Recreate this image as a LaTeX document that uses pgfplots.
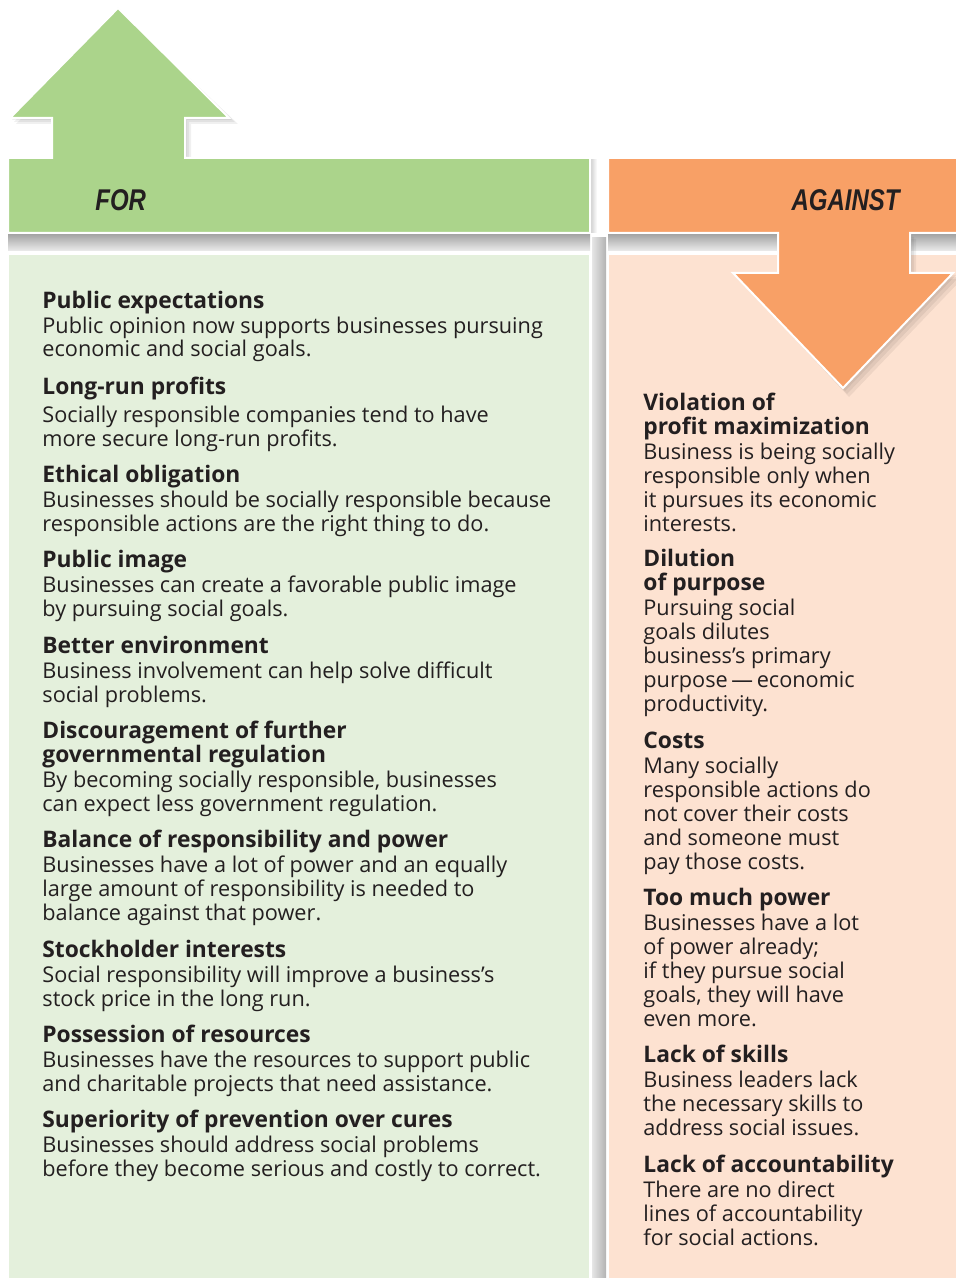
\documentclass[border=0pt]{standalone}
\usepackage{pgfplots}
\pgfplotsset{compat=1.18}
\usepackage{fontspec}
\setmainfont{Open Sans}
\newfontfamily\headfont[FakeStretch=0.8]{Liberation Sans}
\definecolor{gbar}{HTML}{ABD48B}
\definecolor{gpanel}{HTML}{E4F0DC}
\definecolor{obar}{HTML}{F8A066}
\definecolor{opanel}{HTML}{FDE2D1}
\definecolor{txt}{HTML}{231F20}
\newcommand\Hd[3]{\node[anchor=base west,inner sep=0pt,font=\fontsize{11.4}{12}\selectfont\bfseries,text=txt] at (axis cs:#1,#2) {#3};}
\newcommand\Tx[3]{\node[anchor=base west,inner sep=0pt,font=\fontsize{10.85}{12}\selectfont,text=txt] at (axis cs:#1,#2) {#3};}
\begin{document}
\begin{tikzpicture}
\begin{axis}[
  width=478pt, height=639pt, scale only axis,
  xmin=0, xmax=956, ymin=0, ymax=1278, y dir=reverse,
  hide axis, clip=true,
]
% background
\addplot[fill=white, draw=none] coordinates {(0,0) (956,0) (956,1278) (0,1278)} -- cycle;
% panels
\addplot[fill=gpanel, draw=white, line width=1pt] coordinates {(8,254) (590,254) (590,1282) (8,1282)} -- cycle;
\addplot[fill=opanel, draw=white, line width=1pt] coordinates {(608,254) (960,254) (960,1282) (608,1282)} -- cycle;
% vertical separator shadow
\addplot[draw=none, left color=gray!20, right color=gray!60] coordinates {(592,238) (606,238) (606,1282) (592,1282)} -- cycle;
\addplot[draw=none, left color=gray!35, right color=white] coordinates {(591,160) (597,160) (597,233) (591,233)} -- cycle;
% horizontal shadow band
\addplot[draw=none, top color=gray!75, bottom color=gray!15] coordinates {(8,233) (590,233) (590,251) (8,251)} -- cycle;
\addplot[draw=none, top color=gray!75, bottom color=gray!15] coordinates {(608,233) (960,233) (960,251) (608,251)} -- cycle;
% green arrow shadow (soft)
\addplot[fill=black, fill opacity=0.06, draw=none] coordinates {(12,120) (54,120) (54,160) (187,160) (187,120) (232,120) (120,10)} -- cycle;
\addplot[fill=black, fill opacity=0.06, draw=none] coordinates {(14,122) (56,122) (56,162) (189,162) (189,122) (235,122) (121,12)} -- cycle;
\addplot[fill=black, fill opacity=0.06, draw=none] coordinates {(16,124) (58,124) (58,164) (191,164) (191,124) (238,124) (122,14)} -- cycle;
% green arrow + bar
\addplot[fill=gbar, draw=white, line width=1pt] coordinates {(8,233) (8,158) (52,158) (52,118) (10,118) (118,8) (229,118) (185,118) (185,158) (590,158) (590,233)} -- cycle;
% orange arrow shadow (soft)
\addplot[fill=black, fill opacity=0.06, draw=none] coordinates {(780,235) (912,235) (912,275) (956,275) (845,391) (735,275) (780,275)} -- cycle;
\addplot[fill=black, fill opacity=0.06, draw=none] coordinates {(782,237) (914,237) (914,277) (959,277) (847,394) (737,277) (782,277)} -- cycle;
\addplot[fill=black, fill opacity=0.06, draw=none] coordinates {(784,239) (916,239) (916,279) (962,279) (849,397) (739,279) (784,279)} -- cycle;
% orange arrow + bar
\addplot[fill=obar, draw=white, line width=1pt] coordinates {(608,233) (608,158) (960,158) (960,233) (910,233) (910,273) (953,273) (843,388) (733,273) (778,273) (778,233)} -- cycle;
% titles
\node[anchor=base west,inner sep=0pt,text=txt,font=\headfont\fontsize{15}{16}\selectfont\bfseries\itshape] at (axis cs:95,211) {FOR};
\node[anchor=base east,inner sep=0pt,text=txt,font=\headfont\fontsize{15}{16}\selectfont\bfseries\itshape] at (axis cs:900,211) {AGAINST};
% left column
\Hd{42}{309}{Public expectations}
\Tx{42}{334}{Public opinion now supports businesses pursuing}
\Tx{42}{357}{economic and social goals.}
\Hd{42}{394}{Long-run profits}
\Tx{42}{422}{Socially responsible companies tend to have}
\Tx{42}{446}{more secure long-run profits.}
\Hd{42}{482}{Ethical obligation}
\Tx{42}{507}{Businesses should be socially responsible because}
\Tx{42}{531}{responsible actions are the right thing to do.}
\Hd{42}{567}{Public image}
\Tx{42}{592}{Businesses can create a favorable public image}
\Tx{42}{616}{by pursuing social goals.}
\Hd{42}{653}{Better environment}
\Tx{42}{678}{Business involvement can help solve difficult}
\Tx{42}{702}{social problems.}
\Hd{42}{738}{Discouragement of further}
\Hd{42}{762}{governmental regulation}
\Tx{42}{787}{By becoming socially responsible, businesses}
\Tx{42}{811}{can expect less government regulation.}
\Hd{42}{847}{Balance of responsibility and power}
\Tx{42}{872}{Businesses have a lot of power and an equally}
\Tx{42}{896}{large amount of responsibility is needed to}
\Tx{42}{920}{balance against that power.}
\Hd{42}{957}{Stockholder interests}
\Tx{42}{982}{Social responsibility will improve a business’s}
\Tx{42}{1006}{stock price in the long run.}
\Hd{42}{1042}{Possession of resources}
\Tx{42}{1067}{Businesses have the resources to support public}
\Tx{42}{1091}{and charitable projects that need assistance.}
\Hd{42}{1127}{Superiority of prevention over cures}
\Tx{42}{1152}{Businesses should address social problems}
\Tx{42}{1176}{before they become serious and costly to correct.}
% right column
\Hd{643}{410}{Violation of}
\Hd{643}{434}{profit maximization}
\Tx{643}{459}{Business is being socially}
\Tx{643}{483}{responsible only when}
\Tx{643}{507}{it pursues its economic}
\Tx{643}{531}{interests.}
\Hd{643}{566}{Dilution}
\Hd{643}{590}{of purpose}
\Tx{643}{615}{Pursuing social}
\Tx{643}{639}{goals dilutes}
\Tx{643}{663}{business’s primary}
\Tx{643}{687}{purpose\,—\,economic}
\Tx{643}{711}{productivity.}
\Hd{643}{748}{Costs}
\Tx{643}{773}{Many socially}
\Tx{643}{797}{responsible actions do}
\Tx{643}{821}{not cover their costs}
\Tx{643}{845}{and someone must}
\Tx{643}{869}{pay those costs.}
\Hd{643}{905}{Too much power}
\Tx{643}{930}{Businesses have a lot}
\Tx{643}{954}{of power already;}
\Tx{643}{978}{if they pursue social}
\Tx{643}{1002}{goals, they will have}
\Tx{643}{1026}{even more.}
\Hd{643}{1062}{Lack of skills}
\Tx{643}{1087}{Business leaders lack}
\Tx{643}{1111}{the necessary skills to}
\Tx{643}{1135}{address social issues.}
\Hd{643}{1172}{Lack of accountability}
\Tx{643}{1197}{There are no direct}
\Tx{643}{1221}{lines of accountability}
\Tx{643}{1245}{for social actions.}
\end{axis}
\end{tikzpicture}
\end{document}
